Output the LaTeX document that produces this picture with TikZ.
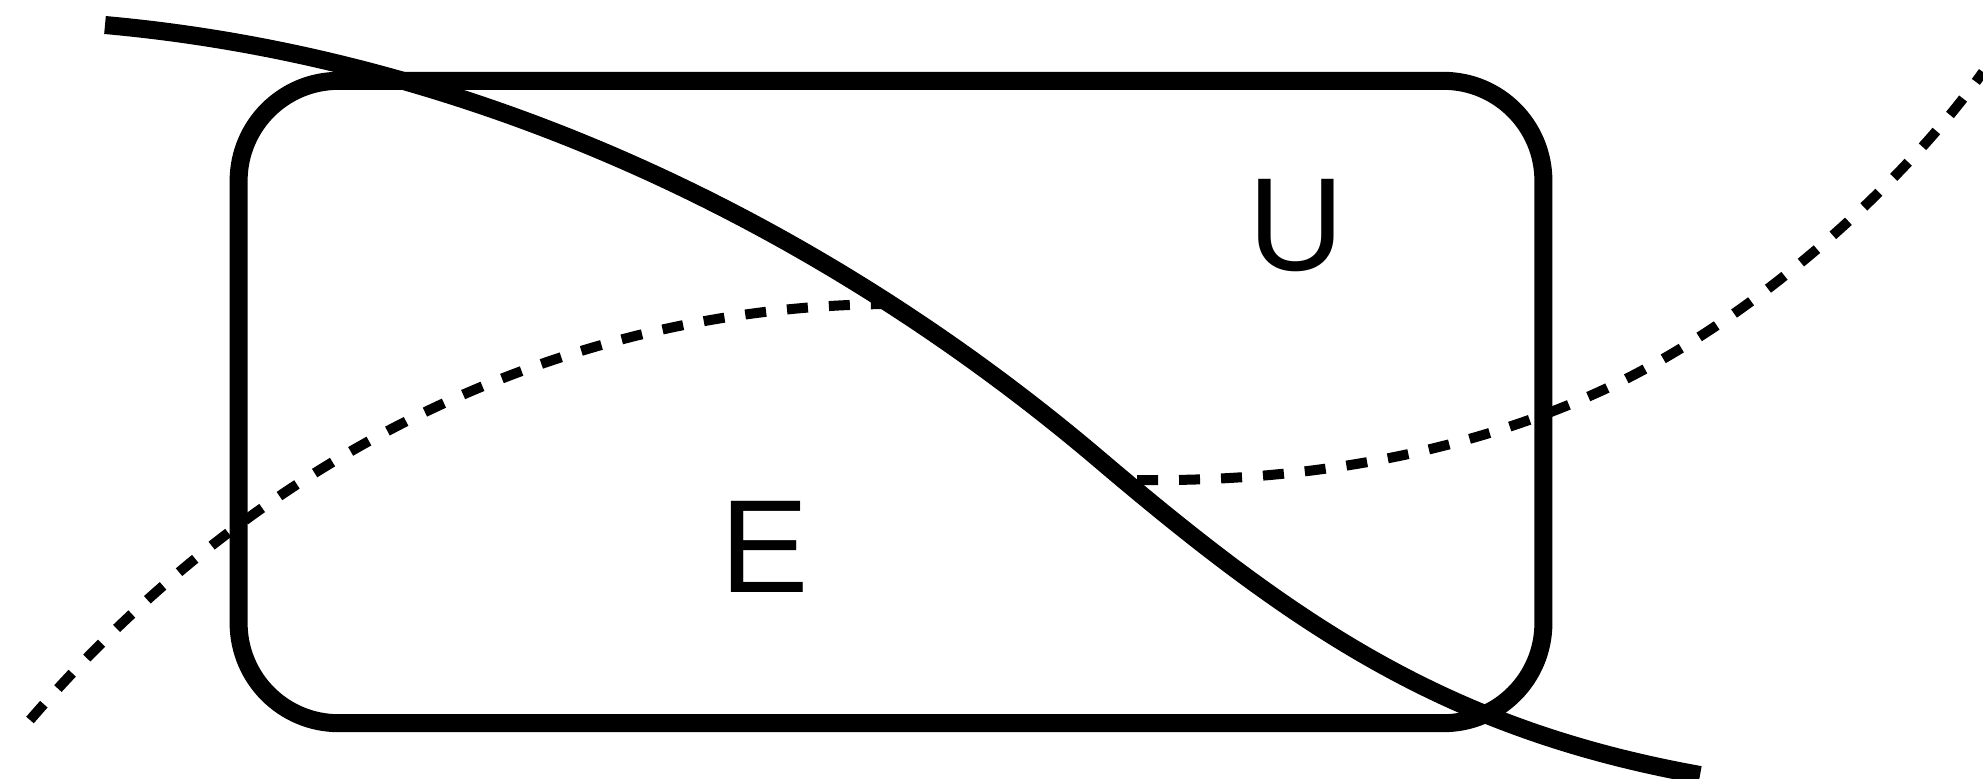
\documentclass[tikz,border=0pt]{standalone}
\usepackage{fontspec}
\setmainfont{Liberation Sans}
\begin{document}
\begin{tikzpicture}[x=0.01cm,y=-0.01cm,
  boxstyle/.style={draw, line width=0.18cm, rounded corners=1cm, minimum width=13.04cm, minimum height=6.42cm, inner sep=0pt, outer sep=0pt},
  solidcurve/.style={line width=0.18cm},
  dotcurve/.style={line width=0.1cm, dash pattern=on 0.21cm off 0.21cm},
  lbl/.style={inner sep=0pt, font=\fontsize{37.7}{40}\selectfont}]
\useasboundingbox (0,0) rectangle (1983,778);
\clip (0,0) rectangle (1983,778);
\node[boxstyle] (box) at (891,402) {};
\node[lbl] (E) at (765,547) {E};
\node[lbl] (U) at (1296,226) {U};
\coordinate (s0) at (105,25);
\coordinate (s1) at (1100,460);
\coordinate (s2) at (1700,775);
\draw[solidcurve] (s0) .. controls (505,61) and (850,247.5) .. (s1)
                       .. controls (1300,630) and (1450,730) .. (s2);
\coordinate (d0) at (30,720);
\coordinate (d1) at (895,304);
\draw[dotcurve] (d0) .. controls (280,430) and (595,304) .. (d1);
\coordinate (r0) at (1137,480);
\coordinate (r1) at (1603,390);
\coordinate (r2) at (1983,72);
\draw[dotcurve] (r0) .. controls (1287,482) and (1453,459) .. (r1)
                     .. controls (1753,321) and (1903,184) .. (r2);
\end{tikzpicture}
\end{document}
